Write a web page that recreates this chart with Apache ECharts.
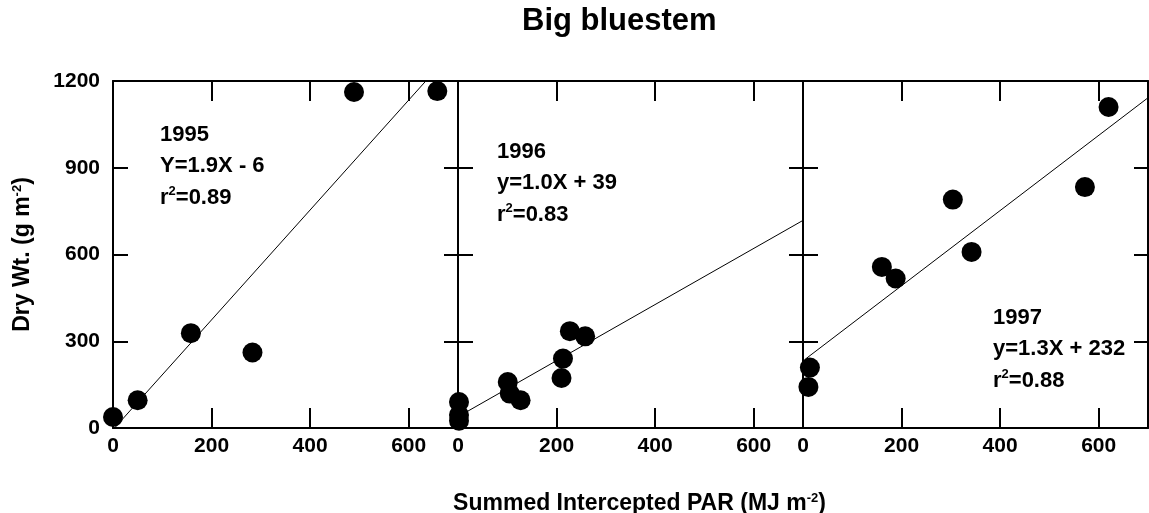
<!DOCTYPE html>
<html>
<head>
<meta charset="utf-8">
<script src="https://cdn.jsdelivr.net/npm/echarts@6/dist/echarts.min.js"></script>
<style>
html,body{margin:0;padding:0;background:#fff;}
#chart{width:1149px;height:513px;}
</style>
</head>
<body>
<div id="chart"></div>
<script>
// ---- data ----
const titleText = 'Big bluestem';
const xTickValues = [0, 200, 400, 600];
const yTickValues = [0, 300, 600, 900, 1200];
const years = ['1995', '1996', '1997'];
const x1995 = [0, 50, 158, 283, 489, 658];
const y1995 = [38, 96, 328, 261, 1162, 1165];
const x1996 = [2, 2, 2, 101, 105, 127, 210, 213, 227, 258];
const y1996 = [90, 45, 25, 159, 119, 96, 173, 240, 335, 317];
const x1997 = [11, 14, 160, 188, 304, 342, 572, 620];
const y1997 = [142, 209, 557, 517, 790, 609, 833, 1110];
const fitSlopes = [1.9, 0.97, 1.3];
const fitIntercepts = [-6, 39, 232];
const fitStart = [3, 17, 5];
const fitEnd = [635, 700, 700];
const eqLabels = ['Y=1.9X - 6', 'y=1.0X + 39', 'y=1.3X + 232'];
const r2Labels = ['0.89', '0.83', '0.88'];
const xName = 'Summed Intercepted PAR (MJ m';
const yName = 'Dry Wt. (g m';

// ---- layout ----
const FONT = '"Liberation Sans", Arial, sans-serif';
const gridLeft = [113, 458, 803];
const gridTop = 81, gridW = 345, gridH = 347;
const annPos = [[160, 119], [497, 136], [993, 302]];

const xs = [x1995, x1996, x1997];
const ys = [y1995, y1996, y1997];

const grids = [], xAxes = [], yAxes = [], series = [], graphics = [];
const lineStyle = {color: '#000', width: 2};
const supStyle = {fontSize: 13, fontWeight: 'bold', color: '#000', fontFamily: FONT, lineHeight: 24, padding: [0, 0, 12, 0]};

for (let i = 0; i < 3; i++) {
  grids.push({left: gridLeft[i], top: gridTop, width: gridW, height: gridH, outerBoundsMode: 'none', containLabel: false});
  // bottom x axis
  const xb = {
    type: 'value', gridIndex: i, position: 'bottom', min: 0, max: 700, interval: 200,
    axisLine: {show: true, onZero: false, lineStyle: lineStyle},
    axisTick: {show: true, inside: true, length: 20, lineStyle: lineStyle, customValues: xTickValues.slice(1)},
    axisLabel: {show: true, margin: 8, fontSize: 21, fontWeight: 'bold', color: '#000', fontFamily: FONT,
                customValues: xTickValues, formatter: v => String(v)},
    splitLine: {show: false}
  };
  if (i === 1) {
    xb.name = xName + '{sup|-2})';
    xb.nameLocation = 'middle';
    xb.nameGap = 64;
    xb.nameTextStyle = {fontSize: 23, fontWeight: 'bold', color: '#000', fontFamily: FONT, padding: [0, 0, 0, 18],
      rich: {sup: supStyle}};
  }
  xAxes.push(xb);
  // top x axis
  xAxes.push({
    type: 'value', gridIndex: i, position: 'top', min: 0, max: 700, interval: 200,
    axisLine: {show: true, onZero: false, lineStyle: lineStyle},
    axisTick: {show: true, inside: true, length: 20, lineStyle: lineStyle, customValues: xTickValues.slice(1)},
    axisLabel: {show: false},
    splitLine: {show: false}
  });
  // left y axis
  const yl = {
    type: 'value', gridIndex: i, position: 'left', min: 0, max: 1200, interval: 300,
    axisLine: {show: true, onZero: false, lineStyle: lineStyle},
    axisTick: {show: true, inside: true, length: 15, lineStyle: lineStyle, customValues: yTickValues.slice(1, -1)},
    axisLabel: {show: i === 0, margin: 13, fontSize: 21, fontWeight: 'bold', color: '#000', fontFamily: FONT,
                customValues: yTickValues, formatter: v => String(v)},
    splitLine: {show: false}
  };
  if (i === 0) {
    yl.name = yName + '{sup|-2})';
    yl.nameLocation = 'middle';
    yl.nameGap = 78;
    yl.nameTextStyle = {fontSize: 23, fontWeight: 'bold', color: '#000', fontFamily: FONT,
      rich: {sup: supStyle}};
  }
  yAxes.push(yl);
  // right y axis
  yAxes.push({
    type: 'value', gridIndex: i, position: 'right', min: 0, max: 1200, interval: 300,
    axisLine: {show: true, onZero: false, lineStyle: lineStyle},
    axisTick: {show: true, inside: true, length: 14, lineStyle: lineStyle, customValues: yTickValues.slice(1, -1)},
    axisLabel: {show: false},
    splitLine: {show: false}
  });

  series.push({
    name: years[i], type: 'scatter', xAxisIndex: 2 * i, yAxisIndex: 2 * i,
    data: xs[i].map((x, k) => [x, ys[i][k]]),
    symbol: 'circle', symbolSize: 20, clip: false,
    itemStyle: {color: '#000', opacity: 1}, z: 3
  });
  series.push({
    name: years[i] + ' fit', type: 'line', xAxisIndex: 2 * i, yAxisIndex: 2 * i,
    data: [fitStart[i], fitEnd[i]].map(x => [x, fitSlopes[i] * x + fitIntercepts[i]]),
    showSymbol: false, symbol: 'none', lineStyle: {color: '#000', width: 1}, z: 2, silent: true
  });

  graphics.push({
    type: 'text', left: annPos[i][0], top: annPos[i][1], z: 10,
    style: {
      text: years[i] + '\n' + eqLabels[i] + '\nr{sup|2}=' + r2Labels[i],
      fontSize: 22, fontWeight: 'bold', fontFamily: FONT, fill: '#000', lineHeight: 31.5,
      rich: {sup: {fontSize: 13, fontWeight: 'bold', fontFamily: FONT, fill: '#000', lineHeight: 24, padding: [0, 0, 12, 0]}}
    }
  });
}

const chart = echarts.init(document.getElementById('chart'), null, {renderer: 'canvas'});
chart.setOption({
  backgroundColor: '#fff',
  animation: false,
  title: {text: titleText, left: 522, top: 6, padding: 0,
          textStyle: {fontSize: 31, fontWeight: 'bold', color: '#000', fontFamily: FONT}},
  grid: grids,
  xAxis: xAxes,
  yAxis: yAxes,
  series: series,
  graphic: graphics
});
</script>
</body>
</html>
